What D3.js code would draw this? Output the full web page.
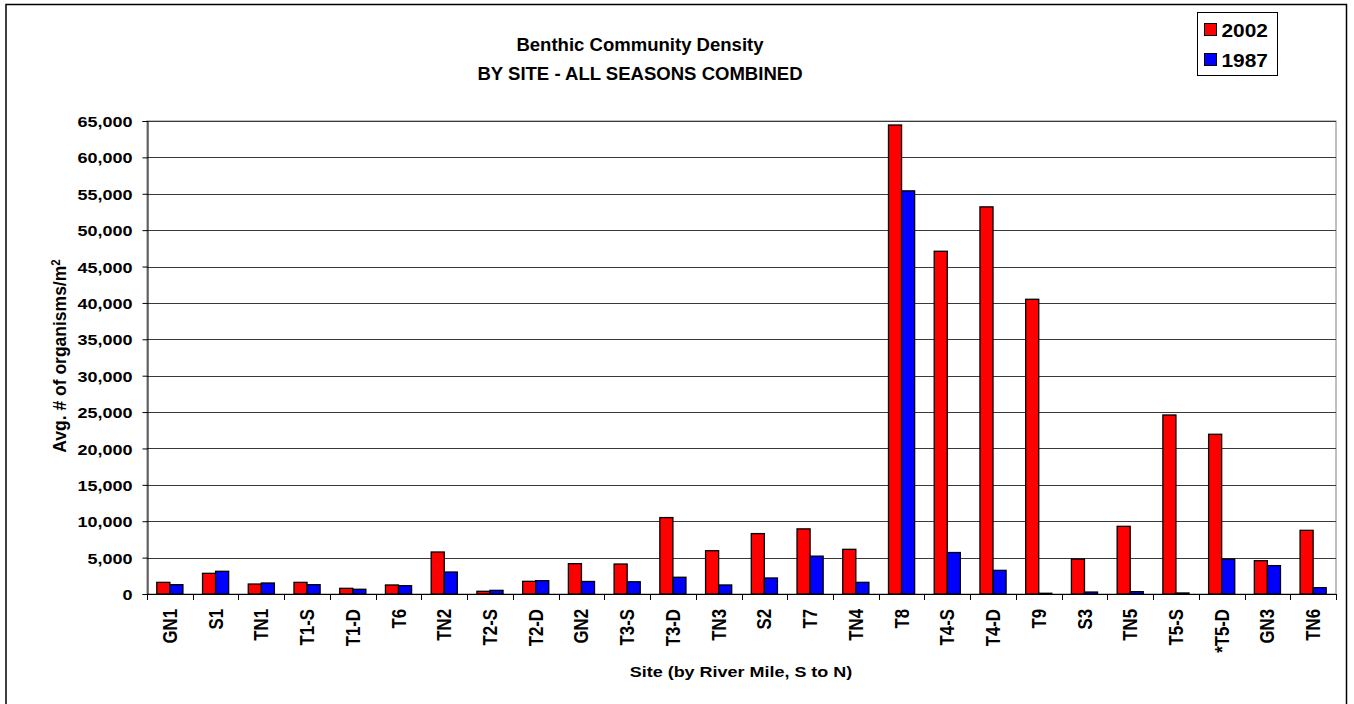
<!DOCTYPE html>
<html>
<head>
<meta charset="utf-8">
<script src="https://cdn.jsdelivr.net/npm/d3@7"></script>
<style>
  html, body { margin: 0; padding: 0; background: #fff; }
  svg { display: block; }
  text { font-family: Arial, "Liberation Sans", sans-serif; font-weight: bold; fill: #000; }
</style>
</head>
<body>
<script>
// Sites ordered by river mile, south to north
const sites = ["GN1","S1","TN1","T1-S","T1-D","T6","TN2","T2-S","T2-D","GN2","T3-S","T3-D","TN3","S2","T7","TN4","T8","T4-S","T4-D","T9","S3","TN5","T5-S","*T5-D","GN3","TN6"];

// Average organisms per square metre, all seasons combined
const density2002 = [1600,2840,1370,1600,780,1240,5770,370,1740,4170,4120,10500,5950,8300,8950,6140,64450,47100,53200,40500,4800,9300,24600,21950,4580,8750];
const density1987 = [1280,3120,1510,1280,650,1140,3020,500,1830,1720,1680,2300,1240,2200,5200,1600,55400,5700,3250,100,270,320,140,4800,3900,870];

const seriesNames = ["2002","1987"];
const seriesColors = ["#FF0000","#0000FF"];
const yTicks = d3.range(0, 65001, 5000);

const W = 1354, H = 704;
const SX = 1.16; // horizontal stretch applied to the chart lettering
const plot = { left: 147, right: 1336, top: 121, bottom: 594 };

const svg = d3.select("body").append("svg").attr("width", W).attr("height", H);

// chart frame
svg.append("rect")
  .attr("x", 6).attr("y", 4.5).attr("width", 1340.5).attr("height", 704)
  .attr("fill", "#fff").attr("stroke", "#000").attr("stroke-width", 1.5);

const x = d3.scaleBand().domain(sites).range([plot.left, plot.right]).paddingInner(0).paddingOuter(0);
const y = d3.scaleLinear().domain([0, 65000]).range([plot.bottom, plot.top]);

const barW = x.bandwidth() / 3.5;
const x1 = d3.scaleBand().domain(seriesNames)
  .range([barW * 0.75, barW * 2.75]).padding(0);

// plot area outline
svg.append("rect")
  .attr("x", plot.left).attr("y", plot.top)
  .attr("width", plot.right - plot.left).attr("height", plot.bottom - plot.top)
  .attr("fill", "none").attr("stroke", "#808080").attr("stroke-width", 1);

// horizontal gridlines
svg.append("g").selectAll("line").data(yTicks.filter(d => d > 0)).join("line")
  .attr("x1", plot.left).attr("x2", plot.right)
  .attr("y1", d => Math.round(y(d)) + 0.5).attr("y2", d => Math.round(y(d)) + 0.5)
  .attr("stroke", "#3a3a3a").attr("stroke-width", 1);

// bars
const rows = sites.map((s, i) => ({ site: s, values: [density2002[i], density1987[i]] }));
const groups = svg.append("g").selectAll("g").data(rows).join("g")
  .attr("transform", d => `translate(${x(d.site)},0)`);
groups.selectAll("rect").data(d => d.values.map((v, k) => ({ key: seriesNames[k], v, c: seriesColors[k] })))
  .join("rect")
  .attr("x", d => x1(d.key))
  .attr("y", d => y(d.v))
  .attr("width", x1.bandwidth())
  .attr("height", d => y(0) - y(d.v))
  .attr("fill", d => d.c)
  .attr("stroke", "#000").attr("stroke-width", 1.3);

// y axis
const yAxis = svg.append("g").attr("transform", `translate(${plot.left + 0.5},0)`)
  .call(d3.axisLeft(y).tickValues(yTicks).tickFormat(d3.format(",")).tickSize(5).tickPadding(0));
yAxis.select(".domain").attr("stroke", "#000").attr("stroke-width", 1);
yAxis.selectAll(".tick line").attr("stroke", "#000");
yAxis.selectAll(".tick text")
  .attr("x", null).attr("dy", "0.36em")
  .attr("transform", `translate(-15,0) scale(${SX},1)`)
  .attr("text-anchor", "end")
  .style("font-size", "15.5px").style("font-family", "Arial, 'Liberation Sans', sans-serif").style("font-weight", "bold");

// x axis: baseline and category boundary ticks
svg.append("line")
  .attr("x1", plot.left).attr("x2", plot.right)
  .attr("y1", plot.bottom + 0.5).attr("y2", plot.bottom + 0.5)
  .attr("stroke", "#000").attr("stroke-width", 1);
svg.append("g").selectAll("line").data(sites.concat([null])).join("line")
  .attr("x1", (d, i) => Math.round(plot.left + i * x.step()) + 0.5)
  .attr("x2", (d, i) => Math.round(plot.left + i * x.step()) + 0.5)
  .attr("y1", plot.bottom).attr("y2", plot.bottom + 6)
  .attr("stroke", "#000").attr("stroke-width", 1);

// category labels, rotated
svg.append("g").selectAll("text").data(sites).join("text")
  .attr("transform", d => `translate(${x(d) + x.bandwidth() / 2},609) scale(${SX},1) rotate(-90)`)
  .attr("text-anchor", "end").attr("dy", "0.36em")
  .style("font-size", "16.8px")
  .text(d => d);

// axis titles
const yTitle = svg.append("text")
  .attr("transform", `translate(59,356) scale(1.05,1) rotate(-90)`)
  .attr("text-anchor", "middle").attr("dy", "0.36em")
  .style("font-size", "17.5px");
yTitle.append("tspan").text("Avg. # of organisms/m");
yTitle.append("tspan").attr("dy", "-0.5em").style("font-size", "11.5px").text("2");

svg.append("text")
  .attr("transform", `translate(741,677) scale(${SX},1)`)
  .attr("text-anchor", "middle")
  .style("font-size", "15.5px")
  .text("Site (by River Mile, S to N)");

// chart title
const titleLines = ["Benthic Community Density", "BY SITE - ALL SEASONS COMBINED"];
svg.append("g").selectAll("text").data(titleLines).join("text")
  .attr("transform", (d, i) => `translate(640,${51 + i * 28.5}) scale(1.06,1)`)
  .attr("text-anchor", "middle")
  .style("font-size", "17.5px")
  .text(d => d);

// legend
const lg = svg.append("g");
lg.append("rect").attr("x", 1197.5).attr("y", 12.5).attr("width", 80).attr("height", 63)
  .attr("fill", "#fff").attr("stroke", "#000").attr("stroke-width", 1);
const items = lg.selectAll("g").data(seriesNames).join("g")
  .attr("transform", (d, i) => `translate(0,${i * 30})`);
items.append("rect").attr("x", 1204.5).attr("y", 23.5).attr("width", 12).attr("height", 12)
  .attr("fill", (d, i) => seriesColors[i]).attr("stroke", "#000").attr("stroke-width", 1);
items.append("text")
  .attr("transform", `translate(1221.5,36.5) scale(${SX},1)`)
  .style("font-size", "18px")
  .text(d => d);
</script>
</body>
</html>
